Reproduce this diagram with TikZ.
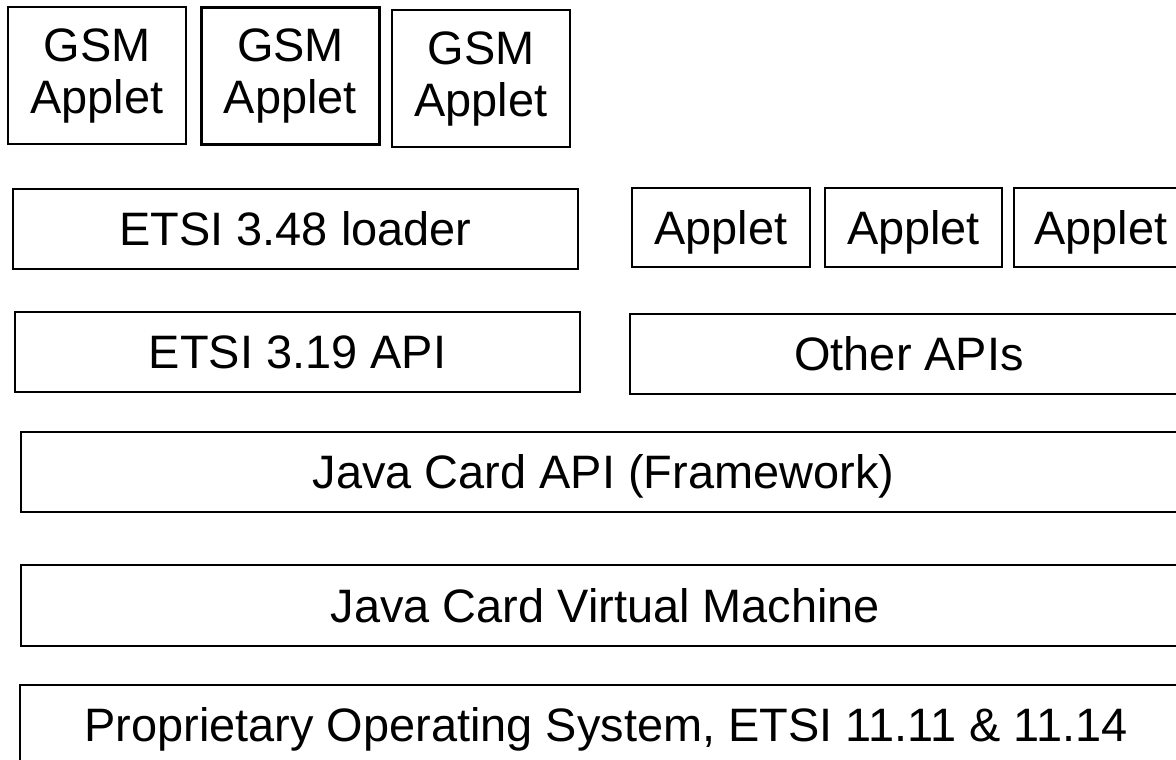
\documentclass[tikz,border=0pt]{standalone}
\usepackage{fontspec}
\setmainfont{Liberation Sans}
\usepackage{tikz}

\begin{document}
\begin{tikzpicture}[x=0.02cm,y=-0.02cm,font=\fontsize{26.7}{29.6}\selectfont,
  layer/.style={draw,line width=1.2pt,inner sep=0pt,text height=19.1pt,text depth=0pt},
  gsm/.style={draw,line width=1.2pt,inner sep=0pt,align=center,minimum width=178*0.02cm,minimum height=137*0.02cm}]
  \useasboundingbox (0,0) rectangle (1176,760);
  \clip (0,0) rectangle (1176,760);
  % GSM applets on top of the loader
  \node[gsm] (gsmA) at (97,75.5) {GSM\\Applet};
  \node[gsm] (gsmB) at (290.5,76) {GSM\\Applet};
  \node[gsm] (gsmC) at (481,78.5) {GSM\\Applet};
  \node[layer,minimum width=565*0.02cm,minimum height=80*0.02cm] (loader) at (295.5,229) {ETSI 3.48 loader};
  \node[layer,minimum width=178*0.02cm,minimum height=79*0.02cm] (appA) at (721,227.5) {Applet};
  \node[layer,minimum width=177*0.02cm,minimum height=79*0.02cm] (appB) at (913.5,227.5) {Applet};
  \node[layer,minimum width=174*0.02cm,minimum height=79*0.02cm] (appC) at (1101,227.5) {Applet};
  % APIs
  \node[layer,minimum width=565*0.02cm,minimum height=80*0.02cm] (api319) at (297.5,352) {ETSI 3.19 API};
  \node[layer,minimum width=558*0.02cm,minimum height=80*0.02cm] (otherapi) at (909,354) {Other APIs};
  \node[layer,minimum width=1165*0.02cm,minimum height=80*0.02cm] (jcapi) at (603.5,472) {Java Card API (Framework)};
  % runtime and OS
  \node[layer,minimum width=1169*0.02cm,minimum height=81*0.02cm] (jcvm) at (605.5,605.5) {Java Card Virtual Machine};
  \node[layer,minimum width=1172*0.02cm,minimum height=80*0.02cm] (propos) at (606,725) {Proprietary Operating System, ETSI 11.11 \& 11.14};
\end{tikzpicture}
\end{document}
